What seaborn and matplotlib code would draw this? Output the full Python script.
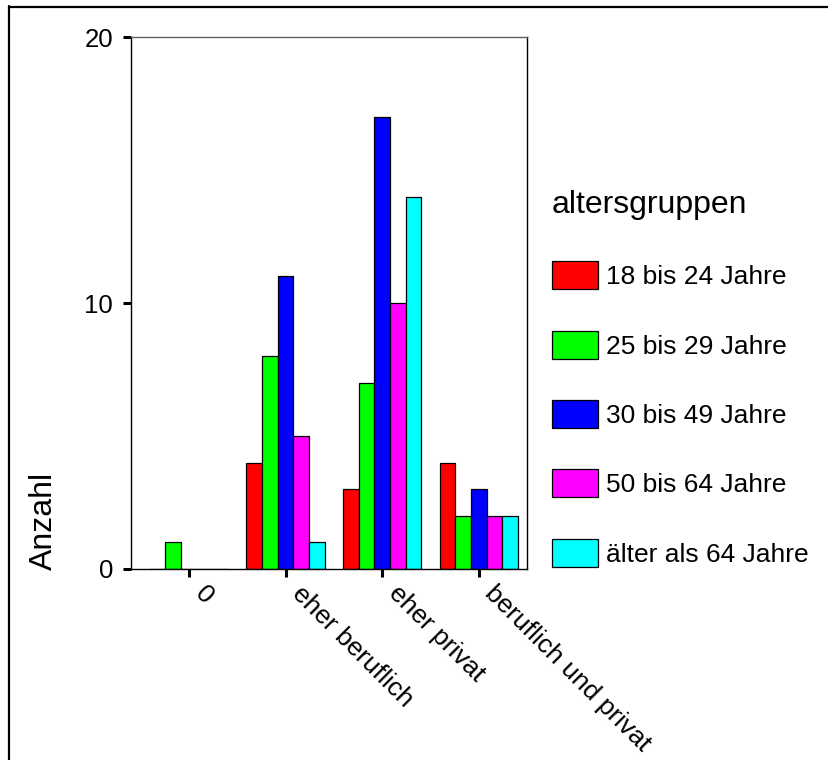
import matplotlib
matplotlib.use("Agg")
import matplotlib.pyplot as plt
import matplotlib.patches as mpatches
import matplotlib.transforms as mtransforms
from matplotlib.lines import Line2D
import seaborn as sns
import pandas as pd

categories = ["0", "eher beruflich", "eher privat", "beruflich und privat"]
groups = ["18 bis 24 Jahre", "25 bis 29 Jahre", "30 bis 49 Jahre",
          "50 bis 64 Jahre", "älter als 64 Jahre"]
colors = ["#FF0000", "#00FF00", "#0000FF", "#FF00FF", "#00FFFF"]
v_18_24 = [0, 4, 3, 4]
v_25_29 = [1, 8, 7, 2]
v_30_49 = [0, 11, 17, 3]
v_50_64 = [0, 5, 10, 2]
v_65_plus = [0, 1, 14, 2]
y_ticks = [0, 10, 20]

series = [v_18_24, v_25_29, v_30_49, v_50_64, v_65_plus]
rows = []
for g, vals in zip(groups, series):
    for c, v in zip(categories, vals):
        rows.append({"kategorie": c, "altersgruppen": g, "Anzahl": v})
df = pd.DataFrame(rows)

sns.set_style("white")
plt.rcParams["font.family"] = ["Liberation Sans", "DejaVu Sans"]
plt.rcParams["text.color"] = "black"
plt.rcParams["xtick.color"] = "black"
plt.rcParams["ytick.color"] = "black"
plt.rcParams["axes.labelcolor"] = "black"

W, H = 829, 760
fig = plt.figure(figsize=(W / 100, H / 100), dpi=100)
ax = fig.add_axes([131 / W, 1 - 569 / H, (527 - 131) / W, (569 - 37) / H])

sns.barplot(data=df, x="kategorie", y="Anzahl", hue="altersgruppen",
            order=categories, hue_order=groups, palette=colors,
            width=0.81, errorbar=None, edgecolor="black", linewidth=0.9,
            saturation=1, ax=ax)
leg = ax.get_legend()
if leg is not None:
    leg.remove()

ax.set_xlim(-0.6, 3.5)
ax.set_ylim(0, 20)
ax.set_yticks(y_ticks)
ax.set_yticklabels([str(t) for t in y_ticks], fontsize=18.5, color="black")
ax.set_xlabel("")
ax.set_ylabel("")
ax.tick_params(axis="y", direction="out", length=6, width=2.2, pad=7,
               left=True, color="black", labelcolor="black")
ax.tick_params(axis="x", direction="out", length=6, width=2.2, pad=6,
               bottom=True, color="black", labelcolor="black")
offset = mtransforms.ScaledTranslation(10 / 100, -4 / 100, fig.dpi_scale_trans)
for lab in ax.get_xticklabels():
    lab.set_rotation(-45)
    lab.set_ha("left")
    lab.set_va("center")
    lab.set_rotation_mode("anchor")
    lab.set_fontsize(19)
    lab.set_color("black")
    lab.set_transform(lab.get_transform() + offset)

for s in ["left", "bottom", "right"]:
    ax.spines[s].set_visible(True)
    ax.spines[s].set_color("black")
    ax.spines[s].set_linewidth(1.0)
ax.spines["top"].set_visible(True)
ax.spines["top"].set_color("#606060")
ax.spines["top"].set_linewidth(1.0)

fig.text(44 / W, 1 - 570 / H, "Anzahl", rotation=90, ha="center",
         va="bottom", fontsize=23, color="black")

handles = [mpatches.Patch(facecolor=c, edgecolor="black", linewidth=0.9)
           for c in colors]
lg = fig.legend(handles, groups, title="altersgruppen", loc="upper left",
                bbox_to_anchor=(552 / W, 1 - 190 / H), frameon=False,
                fontsize=19, title_fontsize=23, handlelength=1.75,
                handleheight=1.25, handletextpad=0.3, labelspacing=1.57,
                borderpad=0, borderaxespad=0, alignment="left")
for t in lg.get_texts():
    t.set_color("black")
lg.get_title().set_color("black")

fig.add_artist(Line2D([9 / W, 9 / W], [0, 1 - 6 / H], transform=fig.transFigure,
                      color="black", linewidth=1.6))
fig.add_artist(Line2D([9 / W, 1], [1 - 6.5 / H, 1 - 6.5 / H],
                      transform=fig.transFigure, color="black", linewidth=1.6))

fig.savefig("out.png", dpi=100)
